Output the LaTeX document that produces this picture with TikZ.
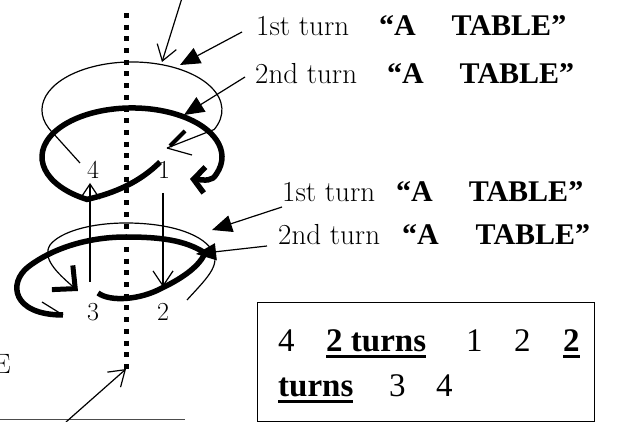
\documentclass[tikz,border=0pt]{standalone}
\usepackage{fontspec}
\newfontfamily\tnr{Liberation Serif}
\usepackage{tikz}
\usetikzlibrary{arrows.meta}
\tikzstyle{thinline} = [line width=1.2pt]
\tikzstyle{thickline} = [line width=5.5pt]
\tikzstyle{openarrow} = [thinline,-{Straight Barb[length=15pt,width=20pt]}]
\tikzstyle{tiparrow} = [thinline,-{Triangle[length=20pt,width=17pt]}]
\tikzstyle{axisline} = [line width=5pt, dash pattern=on 5pt off 6.7pt]
\tikzstyle{turnlabel} = [anchor=base west, inner sep=0pt, font=\fontsize{29}{34}\selectfont]
\tikzstyle{num} = [inner sep=0pt, font=\fontsize{26}{30}\selectfont]
\tikzstyle{boxtext} = [anchor=base west, inner sep=0pt, font=\tnr\fontsize{33}{38}\selectfont]
\newcommand{\bul}[1]{\setbox0\hbox{\bfseries #1}\rlap{\rule[-6pt]{\wd0}{2.8pt}}\box0}
\newcommand{\atable}[1]{{\tnr\bfseries\fontsize{30}{34}\selectfont “A\hspace{#1}TABLE”}}

\begin{document}
\begin{tikzpicture}[x=1pt, y=-1pt]
    \useasboundingbox (0,0) rectangle (622,422);
    \clip (0,0) rectangle (622,422);

    % Axis
    \coordinate (axtop) at (126,13);
    \coordinate (axbot) at (126,369);
    \draw[axisline] (axtop) -- (axbot);

    % Top pointer
    \coordinate (ptop) at (182,-2);
    \coordinate (ptopend) at (162,62);
    \draw[openarrow] (ptop) -- (ptopend);

    % Upper spiral: 1st turn (thin) and 2nd turn (thick)
    \coordinate (up1s) at (80,163);
    \coordinate (up1e) at (167,148);
    \draw[thinline] (up1s) -- (52.5,132.5)
        arc[start angle=152, end angle=384, x radius=90, y radius=48] -- (up1e);
    \draw[thinline] (up1e) -- (192,155);
    \draw[line width=4pt] (up1e) ++(3,-2) -- (185,131);
    \coordinate (up2s) at (160,162);
    \coordinate (up2e) at (190,179);
    \draw[thickline, -{Straight Barb[length=11pt,width=26pt]}] (up2s)
        .. controls (140,182) and (115,193) .. (87,199.4)
        arc[start angle=120, end angle=380, x radius=90, y radius=49]
        .. controls (212,182) and (205,180) .. (up2e);

    % Numbers
    \node[num] (n4) at (93,170) {4};
    \node[num] (n1) at (164,170) {1};
    \node[num] (n3) at (93,312) {3};
    \node[num] (n2) at (163,312) {2};

    % Vertical moves
    \coordinate (up) at (90,282);
    \coordinate (dn) at (163,193);
    \draw[openarrow] (up) -- (90,183);
    \draw[openarrow] (dn) -- (163,287);

    % Lower spiral: 1st turn (thin) and 2nd turn (thick)
    \coordinate (lo1s) at (187,300);
    \coordinate (lo1e) at (78,291);
    \draw[thinline, -{Straight Barb[line width=5pt, length=17pt, width=32pt]}] (lo1s)
        .. controls (205,280) and (222,265) .. (212,250)
        .. controls (200,232) and (165,223) .. (126,223)
        .. controls (90,223) and (60,232) .. (50,245)
        .. controls (42,258) and (56,272) .. (lo1e);
    \coordinate (lo2s) at (98,293);
    \coordinate (lo2e) at (63,315);
    \draw[thickline] (lo2s)
        .. controls (110,302) and (140,300) .. (162,288)
        .. controls (185,277) and (200,265) .. (205,253)
        .. controls (185,240) and (160,237) .. (126,237)
        .. controls (85,237) and (50,250) .. (28,267)
        .. controls (8,283) and (12,315) .. (lo2e);
    \draw[thinline] (42,302) -- (lo2e);

    % Labels
    \node[turnlabel] (lab1) at (256,36) {1st turn\hspace{30pt}\atable{36pt}};
    \node[turnlabel] (lab2) at (255,84) {2nd turn\hspace{30pt}\atable{36pt}};
    \node[turnlabel] (lab3) at (282,202) {1st turn\hspace{21pt}\atable{36pt}};
    \node[turnlabel] (lab4) at (278,245) {2nd turn\hspace{22pt}\atable{37pt}};
    \coordinate (c1) at (180,65);
    \coordinate (c2) at (184,115);
    \coordinate (c3) at (212,230);
    \coordinate (c4) at (196,254);
    \draw[tiparrow] ([shift={(-14,-4)}]lab1.base west) -- (c1);
    \draw[tiparrow] ([shift={(-10,-7)}]lab2.base west) -- (c2);
    \draw[tiparrow] ([shift={(0,5)}]lab3.base west) -- (c3);
    \draw[tiparrow] ([shift={(-11,1)}]lab4.base west) -- (c4);

    % Bottom left
    \node[num, anchor=base east, font=\fontsize{28}{30}\selectfont] (e) at (11,374) {E};
    \coordinate (bl) at (0,420);
    \coordinate (br) at (185,420);
    \draw[line width=1pt, black!70] (bl) -- (br);
    \draw[openarrow] (66,422) -- (axbot);

    % Summary box
    \node[draw, line width=1.3pt, minimum width=337pt, minimum height=119pt, anchor=north west] (box) at (257,302) {};
    \node[boxtext] (b4) at (278,352) {4};
    \node[boxtext] (bt1) at (326,352) {\bul{2 turns}};
    \node[boxtext] (b1) at (466,352) {1};
    \node[boxtext] (b2) at (514,352) {2};
    \node[boxtext] (bt2) at (563,352) {\bul{2}};
    \node[boxtext] (bt3) at (278,397) {\bul{turns}};
    \node[boxtext] (b3) at (389,397) {3};
    \node[boxtext] (b5) at (436,397) {4};
\end{tikzpicture}
\end{document}
